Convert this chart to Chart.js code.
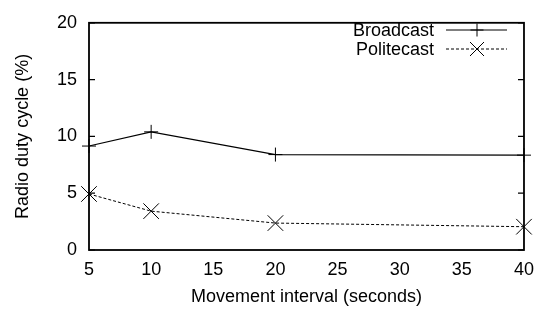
<!DOCTYPE html>
<html>
<head>
<meta charset="utf-8">
<script src="https://cdn.jsdelivr.net/npm/chart.js@4"></script>
<style>
  html, body { margin: 0; padding: 0; background: #fff; }
  #wrap { width: 543px; height: 309px; }
</style>
</head>
<body>
<div id="wrap"><canvas id="dutyChart" width="543" height="309"></canvas></div>
<script>
// movement interval (seconds)
const intervals = [5, 10, 20, 40];
const broadcast = [9.15, 10.4, 8.4, 8.35];
const politecast = [4.93, 3.42, 2.37, 2.05];
const seriesNames = ['Broadcast', 'Politecast'];

const FONT = 'Liberation Sans, Arial, Helvetica, sans-serif';

function toPoints(xs, ys) {
    return xs.map((x, i) => ({x: x, y: ys[i]}));
}

// gnuplot-ish frame: box round the plot, inward y ticks on both sides, legend top right
const framePlugin = {
    id: 'frame',
    afterDraw(chart) {
        const ctx = chart.ctx;
        const a = chart.chartArea;
        const yScale = chart.scales.y;
        ctx.save();
        ctx.strokeStyle = '#000';
        ctx.lineWidth = 1.8;
        ctx.strokeRect(a.left, a.top, a.right - a.left, a.bottom - a.top);

        ctx.lineWidth = 1.2;
        yScale.ticks.forEach(t => {
            const py = yScale.getPixelForValue(t.value);
            ctx.beginPath();
            ctx.moveTo(a.left, py); ctx.lineTo(a.left + 6, py);
            ctx.moveTo(a.right, py); ctx.lineTo(a.right - 6, py);
            ctx.stroke();
        });

        // legend
        ctx.font = '18px ' + FONT;
        ctx.fillStyle = '#000';
        ctx.textAlign = 'right';
        ctx.textBaseline = 'middle';
        chart.data.datasets.forEach((ds, i) => {
            const ly = 30 + i * 19;
            const mx = 477;
            ctx.fillText(ds.label, 434, ly + 1);
            ctx.beginPath();
            ctx.lineWidth = 1;
            ctx.setLineDash(ds.borderDash || []);
            ctx.moveTo(446, ly); ctx.lineTo(507, ly);
            ctx.stroke();
            ctx.setLineDash([]);
            ctx.beginPath();
            if (ds.pointStyle === 'cross') {
                const r = 6.5;
                ctx.moveTo(mx - r, ly); ctx.lineTo(mx + r, ly);
                ctx.moveTo(mx, ly - r); ctx.lineTo(mx, ly + r);
            } else {
                const d = 7;
                ctx.moveTo(mx - d, ly - d); ctx.lineTo(mx + d, ly + d);
                ctx.moveTo(mx - d, ly + d); ctx.lineTo(mx + d, ly - d);
            }
            ctx.stroke();
        });
        ctx.restore();
    }
};

const ctx = document.getElementById('dutyChart').getContext('2d');
const chart = new Chart(ctx, {
    type: 'line',
    data: {
        datasets: [{
            label: seriesNames[0],
            data: toPoints(intervals, broadcast),
            borderColor: '#000',
            backgroundColor: '#000',
            borderWidth: 1.1,
            pointStyle: 'cross',
            pointRadius: 7,
            pointBorderWidth: 1,
            pointBorderColor: '#000',
            clip: false,
            fill: false
        }, {
            label: seriesNames[1],
            data: toPoints(intervals, politecast),
            borderColor: '#000',
            backgroundColor: '#000',
            borderWidth: 1,
            borderDash: [3, 2],
            pointStyle: 'crossRot',
            pointRadius: 11,
            pointBorderWidth: 1,
            pointBorderColor: '#000',
            clip: false,
            fill: false
        }]
    },
    options: {
        responsive: false,
        animation: false,
        layout: { padding: { left: 0, right: 14, top: 16, bottom: 0 } },
        plugins: {
            legend: { display: false },
            tooltip: { enabled: false }
        },
        scales: {
            x: {
                type: 'linear',
                min: 5,
                max: 40,
                ticks: {
                    stepSize: 5,
                    color: '#000',
                    padding: 9,
                    font: { family: FONT, size: 18 },
                    maxRotation: 0
                },
                grid: { display: false, drawTicks: false },
                border: { display: false },
                title: {
                    display: true,
                    text: 'Movement interval (seconds)',
                    color: '#000',
                    font: { family: FONT, size: 18 },
                    padding: { top: 0, bottom: 1 }
                },
                afterFit(scale) { scale.height = 59; }
            },
            y: {
                min: 0,
                max: 20,
                ticks: {
                    stepSize: 5,
                    color: '#000',
                    padding: 12,
                    font: { family: FONT, size: 18 }
                },
                grid: { display: false, drawTicks: false },
                border: { display: false },
                title: {
                    display: true,
                    text: 'Radio duty cycle (%)',
                    color: '#000',
                    font: { family: FONT, size: 18 },
                    padding: { top: 12, bottom: 0 }
                },
                afterFit(scale) { scale.width = 89; }
            }
        }
    },
    plugins: [framePlugin]
});
</script>
</body>
</html>
